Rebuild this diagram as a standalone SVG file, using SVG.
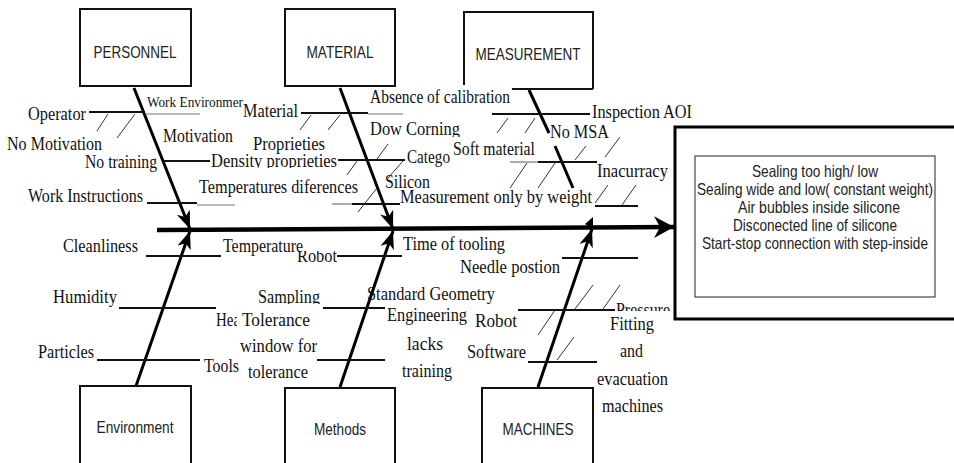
<svg xmlns="http://www.w3.org/2000/svg" width="954" height="463" viewBox="0 0 954 463">
<defs>
<style>
.t{font-family:"Liberation Serif","Times New Roman",serif;font-size:19px;fill:#111}
.s{font-family:"Liberation Sans",Arial,sans-serif;font-size:17px;fill:#222}
.r{font-family:"Liberation Sans",Arial,sans-serif;font-size:16.5px;fill:#222}
.box{fill:#fff;stroke:#111;stroke-width:2}
.bone{stroke:#000;stroke-width:3;fill:none}
.br{stroke:#111;stroke-width:2;fill:none}
.thin{stroke:#777;stroke-width:1.2;fill:none}
.tick{stroke:#333;stroke-width:1;fill:none}
</style>
<marker id="ah" markerUnits="userSpaceOnUse" markerWidth="20" markerHeight="16" refX="18" refY="7" orient="auto">
<path d="M0,0 L18,7 L0,14 L5,7 Z" fill="#000"/>
</marker>
<marker id="big" markerUnits="userSpaceOnUse" markerWidth="24" markerHeight="24" refX="20" refY="11" orient="auto">
<path d="M0,0 L20,11 L0,22 L6,11 Z" fill="#000"/>
</marker>
<clipPath id="cDow"><rect x="360" y="115" width="110" height="22"/></clipPath>
<clipPath id="cSil"><rect x="380" y="170" width="60" height="20"/></clipPath>
<clipPath id="cRob"><rect x="290" y="251" width="60" height="20"/></clipPath>
<clipPath id="cSam"><rect x="250" y="285" width="80" height="19"/></clipPath>
<clipPath id="cPre"><rect x="610" y="295" width="70" height="16"/></clipPath>
<clipPath id="cDen"><rect x="205" y="150" width="140" height="18"/></clipPath>
<clipPath id="cHea"><rect x="210" y="305" width="27" height="30"/></clipPath>
</defs>

<g id="connectors">
<line x1="157" y1="230" x2="674" y2="227" stroke="#000" stroke-width="4.5" marker-end="url(#big)"/>
<line class="bone" x1="134" y1="88" x2="190" y2="229" marker-end="url(#ah)"/>
<line class="bone" x1="340" y1="88" x2="393" y2="229" marker-end="url(#ah)"/>
<line class="bone" x1="529" y1="90" x2="549" y2="133"/>
<line class="bone" x1="555" y1="146" x2="573" y2="188"/>
<polygon points="585,224 593,217 593,229" fill="#000"/>
<line class="bone" x1="136" y1="386" x2="190" y2="231" marker-end="url(#ah)"/>
<line class="bone" x1="340" y1="387" x2="393" y2="231" marker-end="url(#ah)"/>
<line class="bone" x1="538" y1="387" x2="592" y2="229" marker-end="url(#ah)"/>
<line class="br" x1="89" y1="112" x2="145" y2="112"/>
<line class="thin" x1="145" y1="114" x2="200" y2="114"/>
<line class="br" x1="164" y1="161" x2="210" y2="161"/>
<line class="br" x1="147" y1="203" x2="197" y2="203"/>
<line class="thin" x1="197" y1="205" x2="235" y2="205"/>
<line class="br" x1="301" y1="113" x2="368" y2="113"/>
<line class="thin" x1="368" y1="114" x2="403" y2="114"/>
<line class="br" x1="338" y1="160" x2="405" y2="160"/>
<line class="thin" x1="332" y1="204" x2="352" y2="204"/>
<line class="br" x1="352" y1="204" x2="400" y2="204"/>
<line class="br" x1="492" y1="114" x2="590" y2="114"/>
<line class="br" x1="512" y1="89" x2="593" y2="89"/>
<line class="thin" x1="510" y1="162" x2="538" y2="162"/>
<line class="br" x1="538" y1="162" x2="597" y2="162"/>
<line class="br" x1="595" y1="206" x2="638" y2="206"/>
<line class="br" x1="146" y1="256" x2="221" y2="256"/>
<line class="br" x1="337" y1="256" x2="402" y2="256"/>
<line class="br" x1="119" y1="308" x2="216" y2="308"/>
<line class="br" x1="323" y1="308" x2="385" y2="308"/>
<line class="br" x1="97" y1="360" x2="200" y2="360"/>
<line class="br" x1="317" y1="360" x2="385" y2="360"/>
<line class="br" x1="562" y1="258" x2="638" y2="258"/>
<line class="br" x1="518" y1="310" x2="615" y2="310"/>
<line class="br" x1="528" y1="362" x2="597" y2="362"/>
<line class="tick" x1="97" y1="131" x2="108" y2="114"/>
<line class="tick" x1="117" y1="138" x2="135" y2="114"/>
<line class="tick" x1="300" y1="130" x2="311" y2="115"/>
<line class="tick" x1="328" y1="130" x2="340" y2="115"/>
<line class="tick" x1="347" y1="175" x2="357" y2="161"/>
<line class="tick" x1="377" y1="159" x2="388" y2="144"/>
<line class="tick" x1="358" y1="212" x2="377" y2="188"/>
<line class="tick" x1="388" y1="178" x2="403" y2="161"/>
<line class="tick" x1="497" y1="133" x2="508" y2="118"/>
<line class="tick" x1="525" y1="133" x2="535" y2="118"/>
<line class="tick" x1="510" y1="188" x2="527" y2="163"/>
<line class="tick" x1="538" y1="188" x2="555" y2="163"/>
<line class="tick" x1="575" y1="160" x2="586" y2="146"/>
<line class="tick" x1="605" y1="157" x2="620" y2="137"/>
<line class="tick" x1="595" y1="203" x2="608" y2="185"/>
<line class="tick" x1="622" y1="205" x2="636" y2="185"/>
<line class="tick" x1="538" y1="335" x2="555" y2="310"/>
<line class="tick" x1="575" y1="309" x2="593" y2="285"/>
<line class="tick" x1="603" y1="309" x2="620" y2="285"/>
<line class="tick" x1="557" y1="360" x2="574" y2="337"/>
</g>

<g id="personnel">
<rect class="box" x="80" y="9" width="111" height="77"/>
<text class="s" x="135" y="58" text-anchor="middle" textLength="83" lengthAdjust="spacingAndGlyphs">PERSONNEL</text>
</g>
<g id="material">
<rect class="box" x="285" y="9" width="110" height="77"/>
<text class="s" x="340" y="58" text-anchor="middle" textLength="67" lengthAdjust="spacingAndGlyphs">MATERIAL</text>
</g>
<g id="measurement">
<path d="M464,85 L464,12 L593,12 L593,89" fill="none" stroke="#111" stroke-width="2"/>
<text class="s" x="528" y="60" text-anchor="middle" textLength="105" lengthAdjust="spacingAndGlyphs">MEASUREMENT</text>
</g>
<g id="environment">
<rect class="box" x="80" y="386" width="111" height="90"/>
<text class="s" x="135" y="433" text-anchor="middle" textLength="77" lengthAdjust="spacingAndGlyphs">Environment</text>
</g>
<g id="methods">
<rect class="box" x="285" y="388" width="110" height="90"/>
<text class="s" x="340" y="435" text-anchor="middle" textLength="52" lengthAdjust="spacingAndGlyphs">Methods</text>
</g>
<g id="machines">
<rect class="box" x="482" y="388" width="111" height="90"/>
<text class="s" x="538" y="435" text-anchor="middle" textLength="71" lengthAdjust="spacingAndGlyphs">MACHINES</text>
</g>
<g id="result">
<rect x="675" y="127" width="300" height="192" fill="#fff" stroke="#000" stroke-width="3"/>
<rect x="695" y="156" width="240" height="141" fill="#fff" stroke="#222" stroke-width="1"/>
<text class="r" x="815" y="177" text-anchor="middle" textLength="126" lengthAdjust="spacingAndGlyphs">Sealing too high/ low</text>
<text class="r" x="815" y="195" text-anchor="middle" textLength="236" lengthAdjust="spacingAndGlyphs">Sealing wide and low( constant weight)</text>
<text class="r" x="819" y="213" text-anchor="middle" textLength="162" lengthAdjust="spacingAndGlyphs">Air bubbles inside silicone</text>
<text class="r" x="815" y="231" text-anchor="middle" textLength="164" lengthAdjust="spacingAndGlyphs">Disconected line of silicone</text>
<text class="r" x="815" y="249" text-anchor="middle" textLength="226" lengthAdjust="spacingAndGlyphs">Start-stop connection with step-inside</text>
</g>

<g id="labels">
<text class="t" x="28" y="120" textLength="58" lengthAdjust="spacingAndGlyphs">Operator</text>
<text class="t" x="7" y="150" textLength="95" lengthAdjust="spacingAndGlyphs">No Motivation</text>
<text class="t" x="147" y="107" style="font-size:15.5px" textLength="96" lengthAdjust="spacingAndGlyphs">Work Environmer</text>
<text class="t" x="163" y="142" textLength="70" lengthAdjust="spacingAndGlyphs">Motivation</text>
<text class="t" x="85" y="168" textLength="72" lengthAdjust="spacingAndGlyphs">No training</text>
<text class="t" x="28" y="202" textLength="115" lengthAdjust="spacingAndGlyphs">Work Instructions</text>
<text class="t" x="243" y="117" textLength="55" lengthAdjust="spacingAndGlyphs">Material</text>
<text class="t" x="253" y="150" textLength="72" lengthAdjust="spacingAndGlyphs">Proprieties</text>
<text class="t" x="211" y="167" clip-path="url(#cDen)" textLength="126" lengthAdjust="spacingAndGlyphs">Density proprieties</text>
<text class="t" x="199" y="193" textLength="159" lengthAdjust="spacingAndGlyphs">Temperatures diferences</text>
<text class="t" x="370" y="103" textLength="140" lengthAdjust="spacingAndGlyphs">Absence of calibration</text>
<text class="t" x="370" y="135" clip-path="url(#cDow)" textLength="90" lengthAdjust="spacingAndGlyphs">Dow Corning</text>
<text class="t" x="407" y="163" textLength="43" lengthAdjust="spacingAndGlyphs">Catego</text>
<text class="t" x="385" y="188" clip-path="url(#cSil)" textLength="45" lengthAdjust="spacingAndGlyphs">Silicon</text>
<text class="t" x="400" y="203" textLength="192" lengthAdjust="spacingAndGlyphs">Measurement only by weight</text>
<text class="t" x="592" y="118" textLength="100" lengthAdjust="spacingAndGlyphs">Inspection AOI</text>
<text class="t" x="550" y="138" textLength="59" lengthAdjust="spacingAndGlyphs">No MSA</text>
<text class="t" x="453" y="155" textLength="82" lengthAdjust="spacingAndGlyphs">Soft material</text>
<text class="t" x="597" y="177" textLength="71" lengthAdjust="spacingAndGlyphs">Inacurracy</text>
<text class="t" x="63" y="252" textLength="75" lengthAdjust="spacingAndGlyphs">Cleanliness</text>
<text class="t" x="223" y="252" textLength="80" lengthAdjust="spacingAndGlyphs">Temperature</text>
<text class="t" x="297" y="262" clip-path="url(#cRob)" textLength="40" lengthAdjust="spacingAndGlyphs">Robot</text>
<text class="t" x="403" y="250" textLength="102" lengthAdjust="spacingAndGlyphs">Time of tooling</text>
<text class="t" x="53" y="303" textLength="64" lengthAdjust="spacingAndGlyphs">Humidity</text>
<text class="t" x="216" y="326" clip-path="url(#cHea)" textLength="24" lengthAdjust="spacingAndGlyphs">Hea</text>
<text class="t" x="242" y="326" textLength="68" lengthAdjust="spacingAndGlyphs">Tolerance</text>
<text class="t" x="240" y="352" textLength="77" lengthAdjust="spacingAndGlyphs">window for</text>
<text class="t" x="248" y="378" textLength="60" lengthAdjust="spacingAndGlyphs">tolerance</text>
<text class="t" x="38" y="358" textLength="56" lengthAdjust="spacingAndGlyphs">Particles</text>
<text class="t" x="204" y="372" textLength="35" lengthAdjust="spacingAndGlyphs">Tools</text>
<text class="t" x="258" y="303" clip-path="url(#cSam)" textLength="62" lengthAdjust="spacingAndGlyphs">Sampling</text>
<text class="t" x="367" y="300" textLength="128" lengthAdjust="spacingAndGlyphs">Standard Geometry</text>
<text class="t" x="387" y="321" textLength="80" lengthAdjust="spacingAndGlyphs">Engineering</text>
<text class="t" x="407" y="350" textLength="36" lengthAdjust="spacingAndGlyphs">lacks</text>
<text class="t" x="402" y="377" textLength="50" lengthAdjust="spacingAndGlyphs">training</text>
<text class="t" x="460" y="273" textLength="100" lengthAdjust="spacingAndGlyphs">Needle postion</text>
<text class="t" x="616" y="316" clip-path="url(#cPre)" textLength="54" lengthAdjust="spacingAndGlyphs">Pressure</text>
<text class="t" x="475" y="327" textLength="42" lengthAdjust="spacingAndGlyphs">Robot</text>
<text class="t" x="610" y="330" textLength="44" lengthAdjust="spacingAndGlyphs">Fitting</text>
<text class="t" x="620" y="357" textLength="23" lengthAdjust="spacingAndGlyphs">and</text>
<text class="t" x="597" y="385" textLength="71" lengthAdjust="spacingAndGlyphs">evacuation</text>
<text class="t" x="602" y="412" textLength="61" lengthAdjust="spacingAndGlyphs">machines</text>
<text class="t" x="467" y="358" textLength="59" lengthAdjust="spacingAndGlyphs">Software</text>
</g>
</svg>
